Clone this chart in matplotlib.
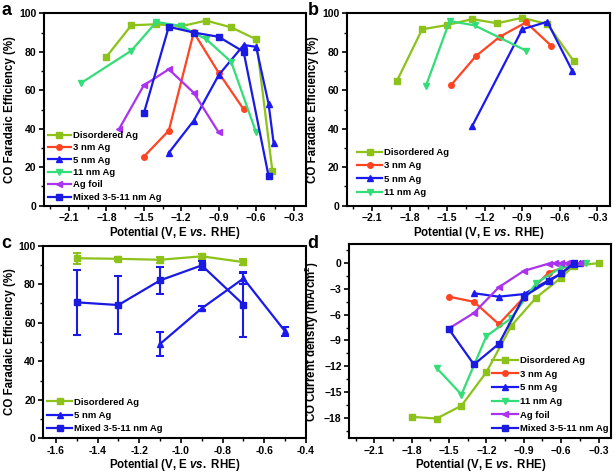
import numpy as np
import matplotlib
matplotlib.use('Agg')
import matplotlib.pyplot as plt
from matplotlib.ticker import MultipleLocator

plt.rcParams['font.family'] = ['Liberation Sans', 'DejaVu Sans']
plt.rcParams['font.weight'] = 'bold'
plt.rcParams['axes.labelweight'] = 'bold'
plt.rcParams['mathtext.fontset'] = 'custom'
plt.rcParams['mathtext.rm'] = 'Liberation Sans:bold'
plt.rcParams['mathtext.it'] = 'Liberation Sans:bold:italic'
plt.rcParams['mathtext.bf'] = 'Liberation Sans:bold'

# ---- panel a: FE vs potential ----
a_dis_x = [-1.8, -1.6, -1.4, -1.2, -1.0, -0.8, -0.6, -0.47]
a_dis_y = [77.4, 93.8, 94.3, 93.3, 96.2, 92.7, 86.5, 18.2]
a_3nm_x = [-1.5, -1.3, -1.1, -0.9, -0.7]
a_3nm_y = [25.5, 39.0, 90.1, 69.1, 50.1]
a_5nm_x = [-1.3, -1.1, -0.9, -0.7, -0.6, -0.5, -0.46]
a_5nm_y = [27.5, 44.2, 67.9, 83.5, 82.6, 52.9, 32.7]
a_11nm_x = [-2.0, -1.6, -1.4, -1.2, -1.0, -0.8, -0.6]
a_11nm_y = [63.9, 80.6, 95.5, 93.4, 86.5, 74.8, 38.1]
a_foil_x = [-1.7, -1.5, -1.3, -1.1, -0.9]
a_foil_y = [39.7, 62.6, 70.9, 58.7, 38.1]
a_mix_x = [-1.5, -1.3, -1.1, -0.9, -0.7, -0.5]
a_mix_y = [48.0, 93.0, 90.0, 87.8, 80.0, 15.4]

# ---- panel b ----
b_dis_x = [-1.9, -1.7, -1.5, -1.3, -1.1, -0.9, -0.7, -0.49]
b_dis_y = [65.0, 91.7, 93.9, 97.0, 94.8, 97.7, 94.4, 75.2]
b_3nm_x = [-1.47, -1.27, -1.08, -0.87, -0.67]
b_3nm_y = [62.6, 77.8, 87.8, 95.3, 83.2]
b_5nm_x = [-1.3, -0.9, -0.7, -0.5]
b_5nm_y = [41.4, 91.7, 95.6, 70.0]
b_11nm_x = [-1.67, -1.48, -1.28, -0.87]
b_11nm_y = [62.2, 96.0, 93.7, 80.6]

# ---- panel c: with error bars ----
c_dis_x = [-1.5, -1.3, -1.1, -0.9, -0.7]
c_dis_y = [93.5, 93.2, 92.7, 94.5, 91.5]
c_dis_e = [2.8, 1.0, 1.5, 1.2, 1.5]
c_5nm_x = [-1.1, -0.9, -0.7, -0.5]
c_5nm_y = [49.0, 67.5, 83.0, 55.5]
c_5nm_e = [6.3, 1.0, 3.0, 2.4]
c_mix_x = [-1.5, -1.3, -1.1, -0.9, -0.7]
c_mix_y = [70.6, 69.2, 82.0, 89.8, 69.4]
c_mix_e = [16.9, 15.1, 7.0, 2.5, 16.7]

# ---- panel d: CO current density ----
d_dis_x = [-1.8, -1.6, -1.4, -1.2, -1.0, -0.8, -0.6, -0.5, -0.3]
d_dis_y = [-17.9, -18.1, -16.6, -12.7, -7.3, -4.0, -1.7, -0.3, 0.0]
d_3nm_x = [-1.5, -1.3, -1.1, -0.9, -0.7, -0.5]
d_3nm_y = [-3.9, -4.5, -7.1, -4.0, -1.1, -0.1]
d_5nm_x = [-1.3, -1.1, -0.9, -0.7, -0.6, -0.5, -0.45]
d_5nm_y = [-3.5, -3.9, -3.6, -2.0, -1.2, -0.1, 0.0]
d_11nm_x = [-1.6, -1.4, -1.2, -1.0, -0.8, -0.6, -0.4]
d_11nm_y = [-12.2, -15.3, -8.5, -6.4, -2.3, -0.5, 0.0]
d_foil_x = [-1.5, -1.3, -1.1, -0.9, -0.7, -0.65, -0.6, -0.55, -0.45]
d_foil_y = [-7.6, -5.8, -2.8, -0.9, -0.05, 0.0, 0.0, 0.0, 0.0]
d_mix_x = [-1.5, -1.3, -1.1, -0.9, -0.7, -0.6, -0.5]
d_mix_y = [-7.7, -11.8, -9.4, -3.9, -2.1, -1.2, 0.0]

# colours / markers
col = {'dis': '#8CC21A', '3nm': '#FF4422', '5nm': '#1A1AF0',
       '11nm': '#33DD77', 'foil': '#AA33EE', 'mix': '#1A1AE0'}
mk = {'dis': 's', '3nm': 'o', '5nm': '^', '11nm': 'v', 'foil': '<', 'mix': 's'}
lab = {'dis': 'Disordered Ag', '3nm': '3 nm Ag', '5nm': '5 nm Ag',
       '11nm': '11 nm Ag', 'foil': 'Ag foil', 'mix': 'Mixed 3-5-11 nm Ag'}

fs = 7.5
lfs = 6.8
fe_label = 'CO Faradaic Efficiency (%)'
pot_label = r'Potential (V, E $\it{vs.}$ RHE)'


def style(ax, xmaj, xmin, ymaj, ymin):
    ax.xaxis.set_major_locator(MultipleLocator(xmaj))
    ax.xaxis.set_minor_locator(MultipleLocator(xmin))
    ax.yaxis.set_major_locator(MultipleLocator(ymaj))
    ax.yaxis.set_minor_locator(MultipleLocator(ymin))
    ax.tick_params(which='major', direction='out', length=3.5, width=1.2,
                   labelsize=fs, pad=2)
    ax.tick_params(which='minor', direction='out', length=2, width=1.0)
    for s in ax.spines.values():
        s.set_linewidth(1.5)
    ax.set_xlabel(pot_label, fontsize=8.3, labelpad=1)


def line(ax, x, y, key):
    ax.plot(x, y, color=col[key], marker=mk[key], ms=4, lw=1.6,
            label=lab[key])


def leg(ax, anchor, spacing, hl=2.6):
    ax.legend(loc='lower left', bbox_to_anchor=anchor, frameon=False,
              handlelength=hl, handletextpad=0.2,
              labelspacing=spacing, borderaxespad=0, borderpad=0,
              prop={'weight': 'bold', 'size': lfs})


fig = plt.figure(figsize=(6.14, 4.72), dpi=100)
ax_a = fig.add_axes([0.0717, 0.5642, 0.4267, 0.4076])
ax_b = fig.add_axes([0.5651, 0.5642, 0.4283, 0.4076])
ax_c = fig.add_axes([0.0705, 0.0714, 0.4279, 0.408])
ax_d = fig.add_axes([0.5689, 0.0714, 0.4262, 0.411])

# a
line(ax_a, a_dis_x, a_dis_y, 'dis')
line(ax_a, a_3nm_x, a_3nm_y, '3nm')
line(ax_a, a_5nm_x, a_5nm_y, '5nm')
line(ax_a, a_11nm_x, a_11nm_y, '11nm')
line(ax_a, a_foil_x, a_foil_y, 'foil')
line(ax_a, a_mix_x, a_mix_y, 'mix')
ax_a.set_xlim(-2.3, -0.2)
ax_a.set_ylim(0, 100)
style(ax_a, 0.3, 0.15, 20, 10)
ax_a.set_xticks([-2.1, -1.8, -1.5, -1.2, -0.9, -0.6, -0.3])
ax_a.set_ylabel(fe_label, fontsize=8.3, labelpad=2)
leg(ax_a, (0.015, 0.02), 0.36, hl=2.4)

# b
line(ax_b, b_dis_x, b_dis_y, 'dis')
line(ax_b, b_3nm_x, b_3nm_y, '3nm')
line(ax_b, b_5nm_x, b_5nm_y, '5nm')
line(ax_b, b_11nm_x, b_11nm_y, '11nm')
ax_b.set_xlim(-2.3, -0.2)
ax_b.set_ylim(0, 100)
style(ax_b, 0.3, 0.15, 20, 10)
ax_b.set_xticks([-2.1, -1.8, -1.5, -1.2, -0.9, -0.6, -0.3])
ax_b.set_ylabel(fe_label, fontsize=8.3, labelpad=2)
leg(ax_b, (0.04, 0.045), 0.46)

# c  (error bars drawn separately so the legend shows plain lines)
for x, y, e, key in [(c_dis_x, c_dis_y, c_dis_e, 'dis'),
                     (c_5nm_x, c_5nm_y, c_5nm_e, '5nm'),
                     (c_mix_x, c_mix_y, c_mix_e, 'mix')]:
    ax_c.errorbar(x, y, yerr=e, fmt='none', ecolor=col[key],
                  elinewidth=1.5, capsize=3, capthick=1.5)
    line(ax_c, x, y, key)
ax_c.set_xlim(-1.66, -0.4)
ax_c.set_ylim(0, 100)
style(ax_c, 0.2, 0.1, 20, 10)
ax_c.set_xticks([-1.6, -1.4, -1.2, -1.0, -0.8, -0.6, -0.4])
ax_c.set_xticklabels(['-1.6', '-1.4', '-1.2', '-1.0', '-0.8', '-0.6', '-0.4'])
ax_c.set_ylabel(fe_label, fontsize=8.3, labelpad=2)
leg(ax_c, (0.015, 0.025), 0.46)

# d
line(ax_d, d_dis_x, d_dis_y, 'dis')
line(ax_d, d_3nm_x, d_3nm_y, '3nm')
line(ax_d, d_5nm_x, d_5nm_y, '5nm')
line(ax_d, d_11nm_x, d_11nm_y, '11nm')
line(ax_d, d_foil_x, d_foil_y, 'foil')
line(ax_d, d_mix_x, d_mix_y, 'mix')
ax_d.set_xlim(-2.3, -0.2)
ax_d.set_ylim(-20.4, 2.2)
style(ax_d, 0.3, 0.15, 3, 1.5)
ax_d.set_xticks([-2.1, -1.8, -1.5, -1.2, -0.9, -0.6, -0.3])
ax_d.set_ylabel(r'CO Current density (mA/cm$^2$)', fontsize=8.3, labelpad=2)
leg(ax_d, (0.545, 0.025), 0.5, hl=2.8)

for ax in [ax_a, ax_b, ax_c, ax_d]:
    for t in ax.get_xticklabels() + ax.get_yticklabels():
        t.set_fontweight('bold')
        t.set_fontsize(fs)

for x, y, s in [(2, 15, 'a'), (308, 15, 'b'), (1, 248, 'c'), (307, 248, 'd')]:
    fig.text(x / 614, 1 - y / 472, s, fontsize=13, fontweight='bold',
             va='baseline', ha='left')

fig.savefig('out.png', dpi=100)
